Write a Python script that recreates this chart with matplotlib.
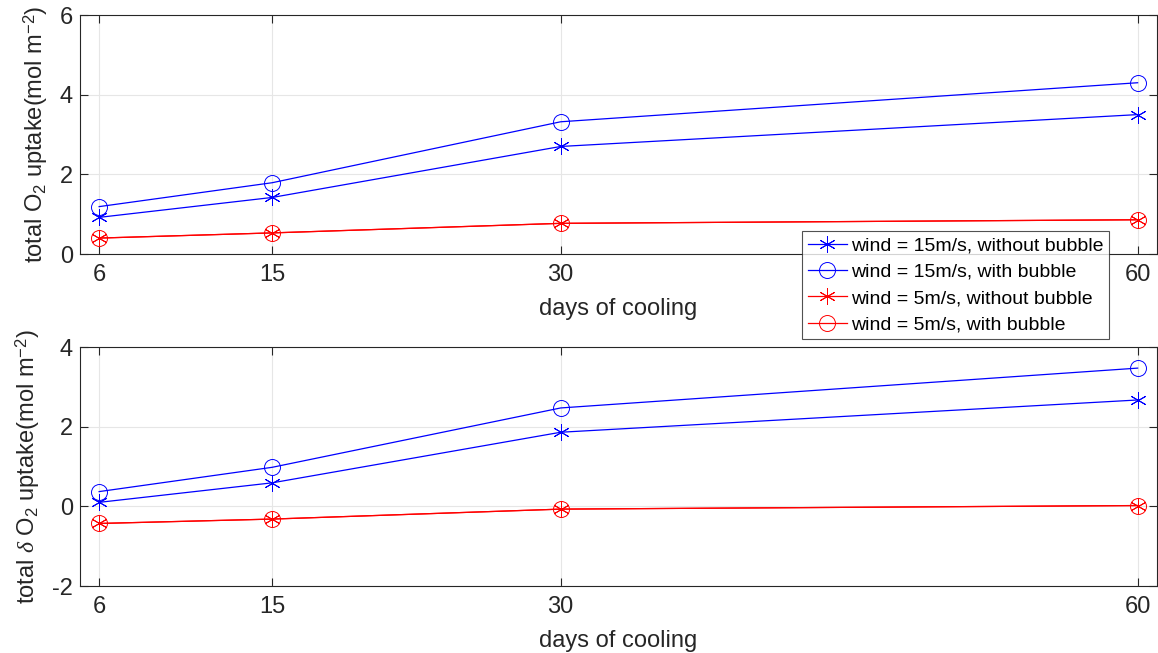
import matplotlib
matplotlib.use("Agg")
from matplotlib import pyplot as plt

plt.rcParams['font.family'] = ['Liberation Sans', 'DejaVu Sans']
plt.rcParams['mathtext.fontset'] = 'custom'
plt.rcParams['mathtext.rm'] = 'Liberation Sans'
plt.rcParams['mathtext.it'] = 'Liberation Serif:italic'

days = [6, 15, 30, 60]

# total O2 uptake (mol m-2)
uptake_15_nobub = [0.92, 1.42, 2.70, 3.50]
uptake_15_bub = [1.19, 1.79, 3.32, 4.30]
uptake_5_nobub = [0.40, 0.53, 0.77, 0.86]
uptake_5_bub = [0.40, 0.53, 0.77, 0.86]

# total delta O2 uptake (mol m-2)
delta_15_nobub = [0.10, 0.59, 1.86, 2.67]
delta_15_bub = [0.37, 0.98, 2.47, 3.47]
delta_5_nobub = [-0.43, -0.32, -0.07, 0.02]
delta_5_bub = [-0.43, -0.32, -0.07, 0.02]

labels = ["wind = 15m/s, without bubble", "wind = 15m/s, with bubble",
          "wind = 5m/s, without bubble", "wind = 5m/s, with bubble"]

star = (6, 2, 0)
styles = [('#0000ff', star), ('#0000ff', 'o'), ('#ff0000', star), ('#ff0000', 'o')]
ax_col = '#262626'
fs = 17

fig = plt.figure(figsize=(11.58, 6.53), dpi=100)
ax1 = fig.add_axes([0.069, 0.611, 0.930, 0.366])
ax2 = fig.add_axes([0.069, 0.1026, 0.930, 0.366])


def draw(ax, series, ylim, yticks, ylabel):
    lines = []
    for ys, (c, m), lab in zip(series, styles, labels):
        ln, = ax.plot(days, ys, color=c, marker=m, markersize=11.5 if m == 'o' else 12,
                      markerfacecolor='none', markeredgecolor=c, markeredgewidth=0.7,
                      linewidth=0.9, label=lab)
        lines.append(ln)
    ax.set_xlim(5, 61)
    ax.set_ylim(*ylim)
    ax.set_xticks(days)
    ax.set_yticks(yticks)
    ax.set_yticklabels([str(t) for t in yticks])
    ax.grid(True, color='#e6e6e6', linewidth=0.8)
    ax.set_axisbelow(True)
    ax.tick_params(direction='in', top=True, right=True, length=6, width=0.8,
                   colors=ax_col, labelsize=fs)
    ax.tick_params(axis='x', pad=7)
    ax.tick_params(axis='y', pad=5)
    for s in ax.spines.values():
        s.set_color(ax_col)
        s.set_linewidth(0.8)
    ax.set_xlabel("days of cooling", fontsize=fs, color=ax_col, labelpad=9)
    ax.set_ylabel(ylabel, fontsize=fs, color=ax_col, labelpad=7)
    return lines


lines = draw(ax1, [uptake_15_nobub, uptake_15_bub, uptake_5_nobub, uptake_5_bub],
             (0, 6), [0, 2, 4, 6], r"total O$_2$ uptake(mol m$^{-2}$)")
draw(ax2, [delta_15_nobub, delta_15_bub, delta_5_nobub, delta_5_bub],
     (-2, 4), [-2, 0, 2, 4], r"total $\mathit{\delta}$ O$_2$ uptake(mol m$^{-2}$)")

leg = fig.legend(lines, labels, loc='upper left', bbox_to_anchor=(0.6926, 0.6463),
                 fontsize=14, frameon=True, fancybox=False, edgecolor='#262626',
                 handlelength=2.0, handletextpad=0.2, borderpad=0.3, labelspacing=0.45,
                 borderaxespad=0)
leg.get_frame().set_linewidth(0.8)

fig.savefig("out.png", dpi=100)
